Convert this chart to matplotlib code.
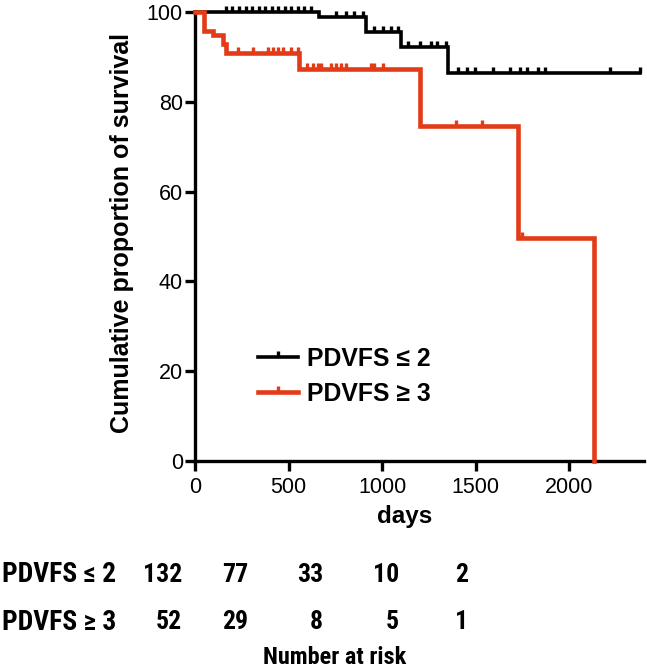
import numpy as np
import matplotlib
matplotlib.use('Agg')
import matplotlib.pyplot as plt
from matplotlib.lines import Line2D
from matplotlib import font_manager as fm

# ---------------- data ----------------
black_times = [0, 661, 912, 1099, 1355, 2379]
black_surv = [100, 98.9, 95.6, 92.3, 86.5, 86.5]
black_censor = [165, 200, 235, 270, 305, 340, 375, 410, 445, 480, 515, 550, 585, 620,
                752, 805, 850, 896, 955, 1003, 1045, 1083,
                1141, 1205, 1259, 1296, 1340, 1408, 1456, 1499, 1595,
                1685, 1739, 1776, 1835, 1872, 2219, 2379]

red_times = [0, 50, 96, 148, 165, 555, 1203, 1725, 2131]
red_surv = [100, 95.8, 94.8, 92.9, 90.8, 87.2, 74.5, 49.6, 0]
red_censor = [229, 309, 389, 416, 443, 469, 512, 549,
              601, 629, 656, 672, 725, 752, 779, 805, 939, 955, 1003,
              1397, 1536, 1749]

group_labels = ['PDVFS \u2264 2', 'PDVFS \u2265 3']
risk_black = [132, 77, 33, 10, 2]
risk_red = [52, 29, 8, 5, 1]
x_ticks = [0, 500, 1000, 1500, 2000]
y_ticks = [0, 20, 40, 60, 80, 100]

# ---------------- style ----------------
W, H = 647, 671
BLACK = '#000000'
RED = '#E33B17'
base_font = ['Liberation Sans', 'DejaVu Sans']
plt.rcParams['font.family'] = base_font

names = {f.name for f in fm.fontManager.ttflist}
narrow_font = None
for cand in ['Liberation Sans Narrow', 'Arial Narrow', 'Roboto Condensed']:
    if cand in names:
        narrow_font = [cand, 'DejaVu Sans']
        break
if narrow_font is None:
    narrow_font = base_font
    lab_size, num_size, nar_size = 17, 17, 16
else:
    lab_size, num_size, nar_size = 19.8, 18.5, 17.5

fig = plt.figure(figsize=(W / 100, H / 100), dpi=100)
ax = fig.add_axes([195 / W, 1 - 461 / H, 449 / W, 449 / H])

tick_marker = [(0, 0), (0, 1)]


def step_at(times, surv, t):
    idx = np.searchsorted(times, t, side='right') - 1
    return np.asarray(surv)[idx]


for times, surv, cens, col, lw in [(black_times, black_surv, black_censor, BLACK, 2.6),
                                   (red_times, red_surv, red_censor, RED, 3.3)]:
    ax.plot(times, surv, drawstyle='steps-post', color=col, lw=lw,
            solid_joinstyle='miter', clip_on=False, zorder=3)
    ax.plot(cens, step_at(times, surv, cens), linestyle='none', marker=tick_marker,
            markersize=8, markeredgewidth=2.4, color=col, clip_on=False, zorder=3)

ax.set_xlim(0, 2400)
ax.set_ylim(0, 100)
ax.set_xticks(x_ticks)
ax.set_yticks(y_ticks)
for s in ['top', 'right']:
    ax.spines[s].set_visible(False)
for s in ['left', 'bottom']:
    ax.spines[s].set_linewidth(2.4)
ax.tick_params(axis='both', length=7.2, width=2.4, labelsize=15.5)
ax.tick_params(axis='y', pad=1.5)
ax.tick_params(axis='x', pad=4)
ax.set_xlabel('days', fontsize=17.5, fontweight='bold', va='center')
ax.xaxis.set_label_coords(405 / W, 1 - 517 / H, transform=fig.transFigure)
ax.set_ylabel('Cumulative proportion of survival', fontsize=18, fontweight='bold', va='center')
ax.yaxis.set_label_coords(122 / W, 1 - 233 / H, transform=fig.transFigure)

handles = [Line2D([], [], color=BLACK, lw=2.6, marker=tick_marker, markersize=8, markeredgewidth=2.4),
           Line2D([], [], color=RED, lw=3.3, marker=tick_marker, markersize=8, markeredgewidth=2.4)]
leg = ax.legend(handles, group_labels, loc='upper left', bbox_to_anchor=(258 / W, 1 - 347 / H),
                bbox_transform=fig.transFigure, frameon=False, handlelength=1.6,
                handletextpad=0.4, labelspacing=0.45, borderpad=0, borderaxespad=0,
                prop={'family': base_font, 'weight': 'bold', 'size': 17.8})

# ---------------- number at risk table ----------------
col_right = [182, 248, 323, 399, 468]
row_y = [575, 622]
for ry, lab, vals in zip(row_y, group_labels, [risk_black, risk_red]):
    fig.text(2 / W, 1 - ry / H, lab, ha='left', va='center', fontsize=lab_size,
             fontweight='bold', family=narrow_font)
    for cx, v in zip(col_right, vals):
        fig.text(cx / W, 1 - ry / H, str(v), ha='right', va='center', fontsize=num_size,
                 fontweight='bold', family=narrow_font)
fig.text(335 / W, 1 - 657 / H, 'Number at risk', ha='center', va='center', fontsize=nar_size,
         fontweight='bold', family=narrow_font)

fig.savefig('out.png', dpi=100)
